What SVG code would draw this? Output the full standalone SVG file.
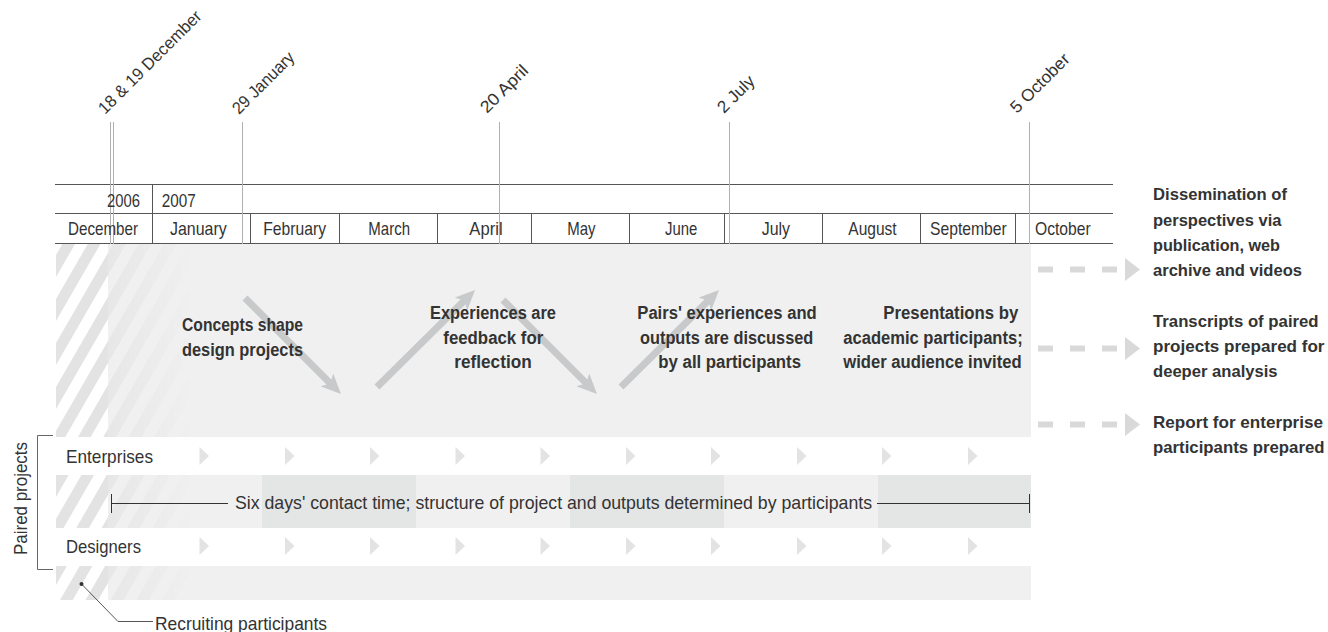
<svg xmlns="http://www.w3.org/2000/svg" width="1328" height="632" viewBox="0 0 1328 632">
<style>
.t{font-family:"Liberation Sans",Arial,sans-serif;fill:#333}
.m{font-size:18.5px}
.d{font-size:17px}
.r{font-size:19px}
.b{font-size:18px;font-weight:bold}
.b2{font-size:17px;font-weight:bold}
.grid{stroke:#555;stroke-width:1;fill:none}
.mk{stroke:#b0b0b0;stroke-width:1;fill:none}
.tri{fill:#e3e3e3}
.big{stroke:#c8c9ca;stroke-width:7;fill:none;marker-end:url(#ah)}
.dash{stroke:#d9d9d9;stroke-width:6;stroke-dasharray:15 17;fill:none}
.dhead{fill:#d9d9d9}
.thin{stroke:#333;stroke-width:1;fill:none}
</style>
<defs>
<pattern id="hatch" patternUnits="userSpaceOnUse" width="22" height="40" patternTransform="rotate(30)">
<rect width="11" height="40" fill="#e3e3e3"/>
</pattern>
<linearGradient id="fadeG" gradientUnits="userSpaceOnUse" x1="108" y1="0" x2="192" y2="0">
<stop offset="0" stop-color="#fff" stop-opacity="0.7"/>
<stop offset="1" stop-color="#fff" stop-opacity="0"/>
</linearGradient>
<mask id="fadeM" maskUnits="userSpaceOnUse" x="100" y="240" width="110" height="370">
<rect x="108" y="240" width="90" height="370" fill="url(#fadeG)"/>
</mask>
<marker id="ah" markerUnits="userSpaceOnUse" markerWidth="20" markerHeight="18" refX="5" refY="9" orient="auto" viewBox="0 0 20 18">
<path d="M0,0 L20,9 L0,18 L5,9 Z" fill="#c8c9ca"/>
</marker>
</defs>

<g id="bands">
<rect x="56" y="244" width="975" height="193" fill="#f0f0f0"/>
<rect x="56" y="244" width="52" height="193" fill="#fff"/>
<rect x="56" y="244" width="52" height="193" fill="url(#hatch)"/>
<rect x="108" y="244" width="90" height="193" fill="url(#hatch)" mask="url(#fadeM)"/>

<rect x="108" y="475" width="923" height="53" fill="#f0f0f0"/>
<rect x="262" y="475" width="154" height="53" fill="#e4e5e5"/>
<rect x="570" y="475" width="154" height="53" fill="#e4e5e5"/>
<rect x="878" y="475" width="153" height="53" fill="#e4e5e5"/>
<rect x="56" y="475" width="52" height="53" fill="url(#hatch)"/>
<rect x="108" y="475" width="90" height="53" fill="url(#hatch)" mask="url(#fadeM)"/>

<rect x="108" y="566" width="923" height="34" fill="#f0f0f0"/>
<rect x="56" y="566" width="52" height="34" fill="url(#hatch)"/>
<rect x="108" y="566" width="90" height="34" fill="url(#hatch)" mask="url(#fadeM)"/>
</g>

<g id="connectors">
<path class="big" d="M245,298L330.4,383.5"/>
<path class="big" d="M377,387L464.4,300.5"/>
<path class="big" d="M503,300L586.4,383.4"/>
<path class="big" d="M621,387L708.4,300.5"/>
<path class="dash" d="M1038,269.5H1118"/>
<path class="dhead" d="M1125,258L1140,269.5L1125,281Z"/>
<path class="dash" d="M1038,348.5H1118"/>
<path class="dhead" d="M1125,337L1140,348.5L1125,360Z"/>
<path class="dash" d="M1038,424.5H1118"/>
<path class="dhead" d="M1125,413L1140,424.5L1125,436Z"/>
<path class="thin" d="M111.5,494V513M111.5,503.5H228M877,503.5H1029.5M1029.5,494V513"/>
<path d="M81.5,584L118,621.5H153" stroke="#555" stroke-width="1" fill="none"/>
</g>

<g id="timeline">
<path class="grid" d="M55,184.5H1113M55,213.5H1113M55,243.5H1113"/>
<path class="grid" d="M152.5,184.5V243.5M250.5,213.5V243.5M339.5,213.5V243.5M437.5,213.5V243.5M531.5,213.5V243.5M629.5,213.5V243.5M724.5,213.5V243.5M822.5,213.5V243.5M920.5,213.5V243.5M1015.5,213.5V243.5"/>
<path class="mk" d="M110.5,122V244M113.5,122V244M242.5,122V244M499.5,122V244M729.5,122V244M1029.5,122V244"/>
<text class="t m" x="107" y="207" textLength="33" lengthAdjust="spacingAndGlyphs">2006</text>
<text class="t m" x="161.7" y="207" textLength="34" lengthAdjust="spacingAndGlyphs">2007</text>
<text class="t m" x="68" y="235" textLength="70" lengthAdjust="spacingAndGlyphs">December</text>
<text class="t m" x="170" y="235" textLength="56.7" lengthAdjust="spacingAndGlyphs">January</text>
<text class="t m" x="263.3" y="235" textLength="62.7" lengthAdjust="spacingAndGlyphs">February</text>
<text class="t m" x="368.3" y="235" textLength="41.7" lengthAdjust="spacingAndGlyphs">March</text>
<text class="t m" x="469.3" y="235" textLength="33.3" lengthAdjust="spacingAndGlyphs">April</text>
<text class="t m" x="567.3" y="235" textLength="28.3" lengthAdjust="spacingAndGlyphs">May</text>
<text class="t m" x="665" y="235" textLength="32.3" lengthAdjust="spacingAndGlyphs">June</text>
<text class="t m" x="761.7" y="235" textLength="28.3" lengthAdjust="spacingAndGlyphs">July</text>
<text class="t m" x="848.3" y="235" textLength="48.3" lengthAdjust="spacingAndGlyphs">August</text>
<text class="t m" x="930" y="235" textLength="76.7" lengthAdjust="spacingAndGlyphs">September</text>
<text class="t m" x="1035" y="235" textLength="55.7" lengthAdjust="spacingAndGlyphs">October</text>
</g>

<g id="dates">
<text class="t d" transform="translate(105,115) rotate(-45)" textLength="138" lengthAdjust="spacingAndGlyphs">18 &amp; 19 December</text>
<text class="t d" transform="translate(239,115) rotate(-45)" textLength="80" lengthAdjust="spacingAndGlyphs">29 January</text>
<text class="t d" transform="translate(487,114) rotate(-45)" textLength="60" lengthAdjust="spacingAndGlyphs">20 April</text>
<text class="t d" transform="translate(724,114) rotate(-45)" textLength="45" lengthAdjust="spacingAndGlyphs">2 July</text>
<text class="t d" transform="translate(1017,114) rotate(-45)" textLength="76" lengthAdjust="spacingAndGlyphs">5 October</text>
</g>

<g id="node-concepts">
<text class="t b" x="182" y="331" textLength="121" lengthAdjust="spacingAndGlyphs">Concepts shape</text>
<text class="t b" x="182" y="355.5" textLength="121" lengthAdjust="spacingAndGlyphs">design projects</text>
</g>
<g id="node-experiences">
<text class="t b" x="430" y="319" textLength="126" lengthAdjust="spacingAndGlyphs">Experiences are</text>
<text class="t b" x="443.3" y="343.5" textLength="100" lengthAdjust="spacingAndGlyphs">feedback for</text>
<text class="t b" x="454.3" y="368" textLength="77.4" lengthAdjust="spacingAndGlyphs">reflection</text>
</g>
<g id="node-pairs">
<text class="t b" x="637.3" y="319" textLength="179.4" lengthAdjust="spacingAndGlyphs">Pairs' experiences and</text>
<text class="t b" x="640" y="343.5" textLength="173.3" lengthAdjust="spacingAndGlyphs">outputs are discussed</text>
<text class="t b" x="658.3" y="368" textLength="142.7" lengthAdjust="spacingAndGlyphs">by all participants</text>
</g>
<g id="node-presentations">
<text class="t b" x="883.3" y="319" textLength="135" lengthAdjust="spacingAndGlyphs">Presentations by</text>
<text class="t b" x="843.3" y="343.5" textLength="179.4" lengthAdjust="spacingAndGlyphs">academic participants;</text>
<text class="t b" x="843.3" y="368" textLength="178.4" lengthAdjust="spacingAndGlyphs">wider audience invited</text>
</g>

<g id="node-dissemination">
<text class="t b2" x="1153" y="200.3" textLength="134" lengthAdjust="spacingAndGlyphs">Dissemination of</text>
<text class="t b2" x="1153" y="225.5" textLength="128.4" lengthAdjust="spacingAndGlyphs">perspectives via</text>
<text class="t b2" x="1153" y="250.8" textLength="127" lengthAdjust="spacingAndGlyphs">publication, web</text>
<text class="t b2" x="1153" y="276" textLength="149" lengthAdjust="spacingAndGlyphs">archive and videos</text>
</g>
<g id="node-transcripts">
<text class="t b2" x="1153" y="327.3" textLength="165.6" lengthAdjust="spacingAndGlyphs">Transcripts of paired</text>
<text class="t b2" x="1153" y="351.8" textLength="171.5" lengthAdjust="spacingAndGlyphs">projects prepared for</text>
<text class="t b2" x="1153" y="376.5" textLength="124.6" lengthAdjust="spacingAndGlyphs">deeper analysis</text>
</g>
<g id="node-report">
<text class="t b2" x="1153" y="428.3" textLength="170" lengthAdjust="spacingAndGlyphs">Report for enterprise</text>
<text class="t b2" x="1153" y="452.5" textLength="171.5" lengthAdjust="spacingAndGlyphs">participants prepared</text>
</g>

<g id="node-enterprises">
<text class="t r" x="66" y="462.7" textLength="87" lengthAdjust="spacingAndGlyphs">Enterprises</text>
<path class="tri" d="M199.5,447l9.5,9l-9.5,9z M285,447l9.5,9l-9.5,9z M370,447l9.5,9l-9.5,9z M455.5,447l9.5,9l-9.5,9z M540.5,447l9.5,9l-9.5,9z M626,447l9.5,9l-9.5,9z M711,447l9.5,9l-9.5,9z M797,447l9.5,9l-9.5,9z M882,447l9.5,9l-9.5,9z M968,447l9.5,9l-9.5,9z"/>
</g>
<g id="node-designers">
<text class="t r" x="66" y="553.3" textLength="75" lengthAdjust="spacingAndGlyphs">Designers</text>
<path class="tri" d="M199.5,537l9.5,9l-9.5,9z M285,537l9.5,9l-9.5,9z M370,537l9.5,9l-9.5,9z M455.5,537l9.5,9l-9.5,9z M540.5,537l9.5,9l-9.5,9z M626,537l9.5,9l-9.5,9z M711,537l9.5,9l-9.5,9z M797,537l9.5,9l-9.5,9z M882,537l9.5,9l-9.5,9z M968,537l9.5,9l-9.5,9z"/>
</g>
<g id="node-paired">
<path d="M53,435.5H37.5V569.5H53" stroke="#666" stroke-width="1" fill="none"/>
<text class="t r" transform="translate(27,555) rotate(-90)" textLength="113" lengthAdjust="spacingAndGlyphs">Paired projects</text>
</g>
<g id="node-contact">
<text class="t r" x="235" y="509.3" textLength="637" lengthAdjust="spacingAndGlyphs">Six days' contact time; structure of project and outputs determined by participants</text>
</g>
<g id="node-recruiting">
<circle cx="81.5" cy="584" r="2" fill="#333"/>
<text class="t r" x="155" y="630" textLength="172" lengthAdjust="spacingAndGlyphs">Recruiting participants</text>
</g>
</svg>
